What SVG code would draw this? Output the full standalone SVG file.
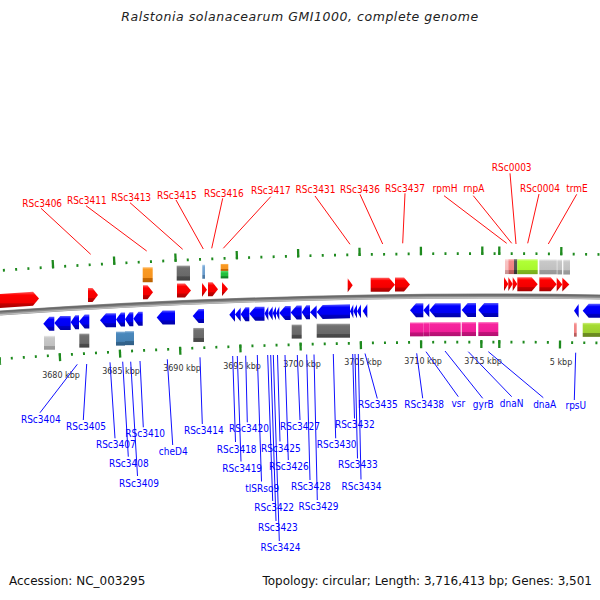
<svg xmlns="http://www.w3.org/2000/svg" width="600" height="600" viewBox="0 0 600 600">
<defs>
<linearGradient id="gRed" x1="0" y1="0" x2="0" y2="1"><stop offset="0" stop-color="#ff6060"/><stop offset="0.2" stop-color="#ff0000"/><stop offset="0.68" stop-color="#f20000"/><stop offset="0.74" stop-color="#c40000"/><stop offset="1" stop-color="#a80000"/></linearGradient>
<linearGradient id="gBlue" x1="0" y1="0" x2="0" y2="1"><stop offset="0" stop-color="#6060ff"/><stop offset="0.2" stop-color="#0000ff"/><stop offset="0.68" stop-color="#0000f2"/><stop offset="0.74" stop-color="#0000c4"/><stop offset="1" stop-color="#0000a8"/></linearGradient>
<linearGradient id="gGray" x1="0" y1="0" x2="0" y2="1"><stop offset="0" stop-color="#a0a0a0"/><stop offset="0.15" stop-color="#707070"/><stop offset="0.7" stop-color="#686868"/><stop offset="0.74" stop-color="#4c4c4c"/><stop offset="1" stop-color="#444"/></linearGradient>
<linearGradient id="gLGray" x1="0" y1="0" x2="0" y2="1"><stop offset="0" stop-color="#ececec"/><stop offset="0.15" stop-color="#c8c8c8"/><stop offset="0.7" stop-color="#c0c0c0"/><stop offset="0.74" stop-color="#9c9c9c"/><stop offset="1" stop-color="#969696"/></linearGradient>
<linearGradient id="gSteel" x1="0" y1="0" x2="0" y2="1"><stop offset="0" stop-color="#88b2d8"/><stop offset="0.15" stop-color="#4a88bc"/><stop offset="0.7" stop-color="#4682b4"/><stop offset="0.74" stop-color="#34668f"/><stop offset="1" stop-color="#2f5d85"/></linearGradient>
<linearGradient id="gLBlue" x1="0" y1="0" x2="0" y2="1"><stop offset="0" stop-color="#b0d0ee"/><stop offset="0.15" stop-color="#78a8d6"/><stop offset="0.7" stop-color="#6a9ccc"/><stop offset="0.74" stop-color="#4e7eaa"/><stop offset="1" stop-color="#4a78a2"/></linearGradient>
<linearGradient id="gOrange" x1="0" y1="0" x2="0" y2="1"><stop offset="0" stop-color="#ffc070"/><stop offset="0.15" stop-color="#fa9a22"/><stop offset="0.7" stop-color="#f69420"/><stop offset="0.74" stop-color="#c86800"/><stop offset="1" stop-color="#b86000"/></linearGradient>
<linearGradient id="gGreen" x1="0" y1="0" x2="0" y2="1"><stop offset="0" stop-color="#60e070"/><stop offset="0.3" stop-color="#22c23e"/><stop offset="0.7" stop-color="#20bc3a"/><stop offset="0.75" stop-color="#148a28"/><stop offset="1" stop-color="#108024"/></linearGradient>
<linearGradient id="gPink" x1="0" y1="0" x2="0" y2="1"><stop offset="0" stop-color="#ff80c8"/><stop offset="0.15" stop-color="#f7249e"/><stop offset="0.7" stop-color="#f01e98"/><stop offset="0.74" stop-color="#c2127a"/><stop offset="1" stop-color="#b01070"/></linearGradient>
<linearGradient id="gSalmon" x1="0" y1="0" x2="0" y2="1"><stop offset="0" stop-color="#ffc0c0"/><stop offset="0.15" stop-color="#f28a8a"/><stop offset="0.7" stop-color="#f08080"/><stop offset="0.74" stop-color="#c06060"/><stop offset="1" stop-color="#b05858"/></linearGradient>
<linearGradient id="gLPink" x1="0" y1="0" x2="0" y2="1"><stop offset="0" stop-color="#ffe4e4"/><stop offset="0.15" stop-color="#f8c4c4"/><stop offset="0.7" stop-color="#f6bcbc"/><stop offset="0.74" stop-color="#d09a9a"/><stop offset="1" stop-color="#c89090"/></linearGradient>
<linearGradient id="gDGray" x1="0" y1="0" x2="0" y2="1"><stop offset="0" stop-color="#888"/><stop offset="0.15" stop-color="#585858"/><stop offset="0.7" stop-color="#505050"/><stop offset="0.74" stop-color="#383838"/><stop offset="1" stop-color="#333"/></linearGradient>
<linearGradient id="gGY" x1="0" y1="0" x2="0" y2="1"><stop offset="0" stop-color="#d8ff90"/><stop offset="0.15" stop-color="#b0ff36"/><stop offset="0.7" stop-color="#a8f82c"/><stop offset="0.74" stop-color="#80b820"/><stop offset="1" stop-color="#76aa1c"/></linearGradient>
<linearGradient id="gYG" x1="0" y1="0" x2="0" y2="1"><stop offset="0" stop-color="#d0f080"/><stop offset="0.15" stop-color="#a6dc34"/><stop offset="0.7" stop-color="#9ccf30"/><stop offset="0.74" stop-color="#6e8e22"/><stop offset="1" stop-color="#68861e"/></linearGradient>
</defs>
<style>
.lab{font-family:"DejaVu Sans Condensed","DejaVu Sans",sans-serif;font-stretch:condensed;font-size:10px;text-anchor:middle}
.top{fill:#ff0000}
.bot{fill:#0000ff}
.kbp{font-family:"DejaVu Sans",sans-serif;font-size:8px;fill:#333;text-anchor:middle}
.ldr{stroke:#ff1010;stroke-width:1;fill:none}
.ldb{stroke:#1010ff;stroke-width:1;fill:none}
.fw{fill:url(#gRed)}
.rv{fill:url(#gBlue)}
.tk{fill:none;stroke:#1e8a1e}
.info{font-family:"DejaVu Sans",sans-serif;font-size:12px;fill:#111}
</style>
<rect width="600" height="600" fill="#fff"/>
<text x="300" y="21" text-anchor="middle" font-family="DejaVu Sans, sans-serif" font-style="italic" font-size="12.5" letter-spacing="0.55" fill="#222">Ralstonia solanacearum GMI1000, complete genome</text>

<g id="axis">
<path d="M0,313 Q300,292 600,297" fill="none" stroke="#8c8c8c" stroke-width="5"/>
<path d="M0,311.8 Q300,290.8 600,295.8" fill="none" stroke="#6a6a6a" stroke-width="1.6"/>
<path d="M0,314.6 Q300,293.6 600,298.6" fill="none" stroke="#bdbdbd" stroke-width="1.2"/>
<path class="tk" d="M0,270.5 Q248.5,253.105 497,253.55" stroke-width="2.7" stroke-dasharray="2 10.277" stroke-dashoffset="9.377"/>
<path class="tk" d="M0,267.65 Q248.5,250.255 497,250.7" stroke-width="8.3" stroke-dasharray="2.3 59.085" stroke-dashoffset="9.535"/>
<path class="tk" d="M497,253.55 Q548.5,253.64 600,254.5" stroke-width="2.7" stroke-dasharray="2 10.4" stroke-dashoffset="11.1"/>
<path class="tk" d="M497,250.7 Q548.5,250.79 600,251.65" stroke-width="8.3" stroke-dasharray="2.3 59.7" stroke-dashoffset="60.85"/>
<path class="tk" d="M0,359 Q248.5,341.605 497,342.05" stroke-width="2.7" stroke-dasharray="2 10.05" stroke-dashoffset="1.25"/>
<path class="tk" d="M0,361 Q248.5,343.605 497,344.05" stroke-width="8" stroke-dasharray="2.3 57.95" stroke-dashoffset="1.4"/>
<path class="tk" d="M497,342.05 Q548.5,342.14 600,343" stroke-width="2.7" stroke-dasharray="2 10.14" stroke-dashoffset="10.84"/>
<path class="tk" d="M497,344.05 Q548.5,344.14 600,345" stroke-width="8" stroke-dasharray="2.3 58.4" stroke-dashoffset="59.55"/>
<text class="kbp" x="61" y="378">3680 kbp</text>
<text class="kbp" x="121" y="373.7">3685 kbp</text>
<text class="kbp" x="182" y="371">3690 kbp</text>
<text class="kbp" x="242" y="368.7">3695 kbp</text>
<text class="kbp" x="302" y="367">3700 kbp</text>
<text class="kbp" x="363" y="365.3">3705 kbp</text>
<text class="kbp" x="423" y="363.7">3710 kbp</text>
<text class="kbp" x="483" y="364">3715 kbp</text>
<text class="kbp" x="561" y="365">5 kbp</text>
</g>

<g id="domains-upper">
<rect x="142.7" y="267.24" width="10" height="15" fill="url(#gOrange)"/>
<rect x="176.7" y="265.6" width="13.3" height="15" fill="url(#gGray)"/>
<rect x="202.3" y="264.75" width="2.7" height="14" fill="url(#gLBlue)"/>
<rect x="220.7" y="263.93" width="7.6" height="7" fill="url(#gOrange)"/>
<rect x="220.7" y="270.93" width="7.6" height="7.5" fill="url(#gGreen)"/>
<rect x="505" y="259.07" width="3.3" height="15" fill="url(#gLPink)"/>
<rect x="508.3" y="259.08" width="5.7" height="15" fill="url(#gSalmon)"/>
<rect x="514" y="259.1" width="3.3" height="15" fill="url(#gDGray)"/>
<rect x="517.3" y="259.17" width="20.4" height="15" fill="url(#gGY)"/>
<rect x="539.3" y="259.33" width="17.5" height="15" fill="url(#gLGray)"/>
<rect x="557.3" y="259.44" width="4.8" height="15" fill="url(#gLGray)"/>
<rect x="563.3" y="259.55" width="6.7" height="15" fill="url(#gLGray)"/>
</g>

<g id="forward-genes">
<polygon class="fw" points="0,294 33,291.77 39,298.39 33,305.77 0,308"/>
<polygon class="fw" points="88,288.12 92.5,288.12 98,295.12 92.5,302.12 88,302.12"/>
<polygon class="fw" points="143,285.23 147.5,285.23 153,292.23 147.5,299.23 143,299.23"/>
<polygon class="fw" points="177,283.57 185,283.57 191,290.57 185,297.57 177,297.57"/>
<polygon class="fw" points="202,282.71 207,289.71 202,296.71"/>
<polygon class="fw" points="208,282.37 212.5,282.37 218,289.37 212.5,296.37 208,296.37"/>
<polygon class="fw" points="222,281.91 228,288.91 222,295.91"/>
<polygon class="fw" points="347.7,278.35 352.7,285.35 347.7,292.35"/>
<polygon class="fw" points="370.7,277.79 389,277.79 395,284.79 389,291.79 370.7,291.79"/>
<polygon class="fw" points="395,277.53 404,277.53 410,284.53 404,291.53 395,291.53"/>
<polygon class="fw" points="504,277.07 508.3,284.07 504,291.07"/>
<polygon class="fw" points="508.3,277.08 512.7,284.08 508.3,291.08"/>
<polygon class="fw" points="512.7,277.1 517.3,284.1 512.7,291.1"/>
<polygon class="fw" points="517.3,277.17 531.7,277.17 537.7,284.17 531.7,291.17 517.3,291.17"/>
<polygon class="fw" points="539.3,277.33 550.7,277.33 556.7,284.33 550.7,291.33 539.3,291.33"/>
<polygon class="fw" points="556.7,277.44 562.3,284.44 556.7,291.44"/>
<polygon class="fw" points="562.3,277.52 569.3,284.52 562.3,291.52"/>
</g>

<g id="reverse-genes">
<polygon class="rv" points="43.3,323.76 49.3,316.76 54.3,316.76 54.3,330.76 49.3,330.76"/>
<polygon class="rv" points="54.3,322.91 60.3,315.91 70.7,315.91 70.7,329.91 60.3,329.91"/>
<polygon class="rv" points="70.7,322.16 75.3,315.16 79,315.16 79,329.16 75.3,329.16"/>
<polygon class="rv" points="79,321.62 84.7,314.62 89.3,314.62 89.3,328.62 84.7,328.62"/>
<polygon class="rv" points="100,320.28 106,313.28 116,313.28 116,327.28 106,327.28"/>
<polygon class="rv" points="116,319.62 121,312.62 125,312.62 125,326.62 121,326.62"/>
<polygon class="rv" points="125,319.17 129.6,312.17 133.3,312.17 133.3,326.17 129.6,326.17"/>
<polygon class="rv" points="133.3,318.72 138.5,311.72 142.7,311.72 142.7,325.72 138.5,325.72"/>
<polygon class="rv" points="156.7,317.38 162.7,310.38 175,310.38 175,324.38 162.7,324.38"/>
<polygon class="rv" points="192.7,315.96 198.7,308.96 204,308.96 204,322.96 198.7,322.96"/>
<polygon class="rv" points="229.3,314.65 235,307.65 235,321.65"/>
<polygon class="rv" points="235,314.43 240.7,307.43 240.7,321.43"/>
<polygon class="rv" points="240.7,314.18 245.4,307.18 249.3,307.18 249.3,321.18 245.4,321.18"/>
<polygon class="rv" points="249.3,313.78 255.3,306.78 264.5,306.78 264.5,320.78 255.3,320.78"/>
<polygon class="rv" points="264.5,313.49 268.3,306.49 268.3,320.49"/>
<polygon class="rv" points="268.3,313.36 272.7,306.36 272.7,320.36"/>
<polygon class="rv" points="272.7,313.24 276,306.24 276,320.24"/>
<polygon class="rv" points="276,313.13 279.3,306.13 279.3,320.13"/>
<polygon class="rv" points="279.3,312.92 285.3,305.92 290.7,305.92 290.7,319.92 285.3,319.92"/>
<polygon class="rv" points="290.7,312.6 296.7,305.6 301.7,305.6 301.7,319.6 296.7,319.6"/>
<polygon class="rv" points="301.7,312.34 306.3,305.34 310,305.34 310,319.34 306.3,319.34"/>
<polygon class="rv" points="310,312.16 316.7,305.16 316.7,319.16"/>
<polygon class="rv" points="316.7,312.1 322.7,304.94 350,304.35 350,318.35 322.7,318.94"/>
<polygon class="rv" points="350,311.32 353.3,304.32 353.3,318.32"/>
<polygon class="rv" points="353.3,311.26 357,304.26 357,318.26"/>
<polygon class="rv" points="357,311.18 361,304.18 361,318.18"/>
<polygon class="rv" points="362.7,311.08 367.3,304.08 367.3,318.08"/>
<polygon class="rv" points="410,310.37 416,303.37 423.3,303.37 423.3,317.37 416,317.37"/>
<polygon class="rv" points="423.3,310.28 429.3,303.28 429.3,317.28"/>
<polygon class="rv" points="429.3,310.15 435.3,303.15 460.7,303.15 460.7,317.15 435.3,317.15"/>
<polygon class="rv" points="461.7,310.05 467.7,303.05 476,303.05 476,317.05 467.7,317.05"/>
<polygon class="rv" points="478.3,310.04 484.3,303.04 498.3,303.04 498.3,317.04 484.3,317.04"/>
<polygon class="rv" points="574,310.65 578.7,303.65 578.7,317.65"/>
<polygon class="rv" points="582.7,310.85 588.7,303.85 605,303.85 605,317.85 588.7,317.85"/>
</g>

<g id="domains-lower">
<rect x="44" y="335.72" width="11" height="14" fill="url(#gLGray)"/>
<rect x="79.3" y="333.61" width="10" height="14" fill="url(#gGray)"/>
<rect x="116" y="331.62" width="9" height="14" fill="url(#gSteel)"/>
<rect x="125" y="331.15" width="9" height="14" fill="url(#gSteel)"/>
<rect x="193.3" y="327.95" width="10.7" height="14" fill="url(#gGray)"/>
<rect x="291.7" y="324.59" width="10" height="14" fill="url(#gGray)"/>
<rect x="316.7" y="323.7" width="33.3" height="14" fill="url(#gGray)"/>
<rect x="410" y="322.37" width="13.3" height="14" fill="url(#gPink)"/>
<rect x="423.3" y="322.28" width="6" height="14" fill="url(#gPink)"/>
<rect x="429.3" y="322.15" width="31.4" height="14" fill="url(#gPink)"/>
<rect x="461.7" y="322.05" width="14.3" height="14" fill="url(#gPink)"/>
<rect x="478.3" y="322.04" width="20" height="14" fill="url(#gPink)"/>
<rect x="574" y="322.64" width="2.7" height="14" fill="url(#gSalmon)"/>
<rect x="582.7" y="322.85" width="17.3" height="14" fill="url(#gYG)"/>
</g>

<g id="leaders">
<line class="ldr" x1="41" y1="208.3" x2="90.7" y2="254.3"/>
<line class="ldr" x1="86" y1="205.7" x2="146.7" y2="251"/>
<line class="ldr" x1="130" y1="202.7" x2="182.7" y2="249.3"/>
<line class="ldr" x1="176" y1="200" x2="203.3" y2="249"/>
<line class="ldr" x1="222.7" y1="198.3" x2="211.7" y2="248.3"/>
<line class="ldr" x1="270.7" y1="196.7" x2="223.3" y2="248.3"/>
<line class="ldr" x1="315" y1="196" x2="350" y2="244.3"/>
<line class="ldr" x1="360" y1="194.3" x2="382.7" y2="244"/>
<line class="ldr" x1="405" y1="193.3" x2="402.7" y2="243.3"/>
<line class="ldr" x1="444" y1="195.7" x2="506.7" y2="243.3"/>
<line class="ldr" x1="473.3" y1="195.7" x2="511.7" y2="243.3"/>
<line class="ldr" x1="510" y1="173.3" x2="516" y2="244"/>
<line class="ldr" x1="539" y1="194" x2="527.7" y2="243.3"/>
<line class="ldr" x1="576.7" y1="194.3" x2="548.3" y2="244"/>
<line class="ldb" x1="77.3" y1="364.3" x2="40" y2="412.7"/>
<line class="ldb" x1="86.7" y1="364" x2="83.3" y2="420"/>
<line class="ldb" x1="110" y1="362.3" x2="115" y2="438.3"/>
<line class="ldb" x1="122.7" y1="361.7" x2="128.3" y2="456.7"/>
<line class="ldb" x1="130.7" y1="361.7" x2="137.5" y2="476"/>
<line class="ldb" x1="140" y1="361" x2="143.3" y2="427.3"/>
<line class="ldb" x1="167.3" y1="359.3" x2="172.7" y2="445"/>
<line class="ldb" x1="200" y1="357.3" x2="202.3" y2="424"/>
<line class="ldb" x1="232.7" y1="356" x2="235.5" y2="442"/>
<line class="ldb" x1="245.7" y1="355.7" x2="247.3" y2="422.3"/>
<line class="ldb" x1="237.3" y1="356" x2="241" y2="461.5"/>
<line class="ldb" x1="257.3" y1="355" x2="261.5" y2="481.5"/>
<line class="ldb" x1="267.7" y1="355" x2="272.7" y2="501"/>
<line class="ldb" x1="270.7" y1="355" x2="276" y2="521"/>
<line class="ldb" x1="273.3" y1="355" x2="279.3" y2="541"/>
<line class="ldb" x1="277.5" y1="355" x2="280" y2="441.5"/>
<line class="ldb" x1="285" y1="355" x2="288.3" y2="460"/>
<line class="ldb" x1="297.3" y1="355" x2="300" y2="420"/>
<line class="ldb" x1="306.7" y1="354.5" x2="310" y2="480"/>
<line class="ldb" x1="314" y1="354.5" x2="317.3" y2="500"/>
<line class="ldb" x1="333.3" y1="354" x2="335.7" y2="438.3"/>
<line class="ldb" x1="352.7" y1="354" x2="354.5" y2="418.5"/>
<line class="ldb" x1="355" y1="354" x2="357.5" y2="458.5"/>
<line class="ldb" x1="358.3" y1="354" x2="361" y2="479.5"/>
<line class="ldb" x1="365" y1="353.5" x2="377.3" y2="398.5"/>
<line class="ldb" x1="416.7" y1="353.3" x2="422.7" y2="398.3"/>
<line class="ldb" x1="426" y1="351.7" x2="458.3" y2="396.7"/>
<line class="ldb" x1="445" y1="351" x2="482.7" y2="398.3"/>
<line class="ldb" x1="468.3" y1="351.7" x2="511.7" y2="396.7"/>
<line class="ldb" x1="488.3" y1="351.7" x2="543.3" y2="397.7"/>
<line class="ldb" x1="575.7" y1="352.7" x2="574.3" y2="400"/>
</g>

<g id="labels-top" class="lab top">
<text x="42.2" y="206.5">RSc3406</text>
<text x="86.8" y="204">RSc3411</text>
<text x="131.2" y="201">RSc3413</text>
<text x="176.8" y="199">RSc3415</text>
<text x="223.8" y="196.5">RSc3416</text>
<text x="270.8" y="194.3">RSc3417</text>
<text x="315.5" y="193.3">RSc3431</text>
<text x="360" y="192.5">RSc3436</text>
<text x="405" y="191.5">RSc3437</text>
<text x="445" y="191.5">rpmH</text>
<text x="473.8" y="191.5">rnpA</text>
<text x="511.7" y="171">RSc0003</text>
<text x="540" y="191.5">RSc0004</text>
<text x="577" y="192.3">trmE</text>
</g>

<g id="labels-bottom" class="lab bot">
<text x="40.8" y="423.3">RSc3404</text>
<text x="86" y="430">RSc3405</text>
<text x="115.8" y="447.7">RSc3407</text>
<text x="128.8" y="466.7">RSc3408</text>
<text x="139" y="487">RSc3409</text>
<text x="145.2" y="437.3">RSc3410</text>
<text x="173.2" y="455">cheD4</text>
<text x="203.8" y="434">RSc3414</text>
<text x="236.7" y="452.5">RSc3418</text>
<text x="242.2" y="471.7">RSc3419</text>
<text x="249" y="432.3">RSc3420</text>
<text x="262.2" y="491.7">tlSRso9</text>
<text x="274.2" y="511">RSc3422</text>
<text x="277.8" y="531">RSc3423</text>
<text x="280.5" y="551">RSc3424</text>
<text x="280.8" y="451.7">RSc3425</text>
<text x="288.8" y="470">RSc3426</text>
<text x="300" y="430">RSc3427</text>
<text x="310.8" y="490">RSc3428</text>
<text x="318.5" y="510">RSc3429</text>
<text x="336.7" y="448.3">RSc3430</text>
<text x="354.8" y="428.3">RSc3432</text>
<text x="357.8" y="468.3">RSc3433</text>
<text x="361.5" y="490">RSc3434</text>
<text x="377.8" y="408.3">RSc3435</text>
<text x="424.2" y="408.3">RSc3438</text>
<text x="458.3" y="406.7">vsr</text>
<text x="483.3" y="407.5">gyrB</text>
<text x="511.7" y="407">dnaN</text>
<text x="544.7" y="407.5">dnaA</text>
<text x="575.8" y="408.5">rpsU</text>
</g>

<text class="info" x="9" y="585">Accession: NC_003295</text>
<text class="info" x="592" y="585" text-anchor="end">Topology: circular; Length: 3,716,413 bp; Genes: 3,501</text>
</svg>
